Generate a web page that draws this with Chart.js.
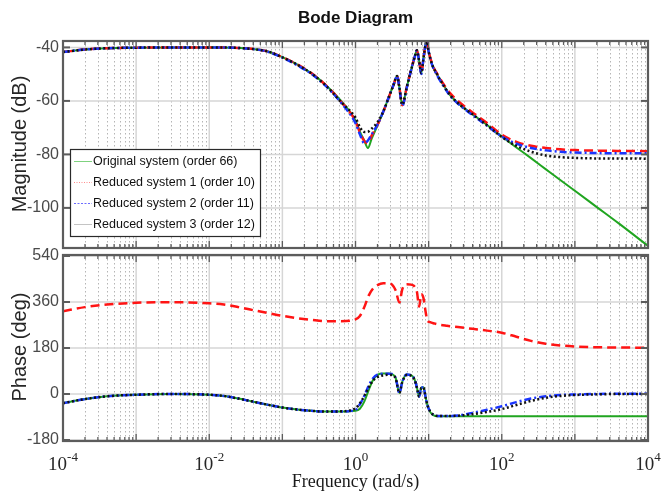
<!DOCTYPE html>
<html><head><meta charset="utf-8">
<script src="https://cdn.jsdelivr.net/npm/chart.js@4.4.0/dist/chart.umd.min.js"></script>
<style>
html,body{margin:0;padding:0;background:#fff;}
#wrap{position:relative;width:661px;height:492px;overflow:hidden;background:#fff}
canvas{position:absolute;left:0}
</style></head><body>
<div id="wrap">
<canvas id="mag" width="661" height="250" style="top:0px"></canvas>
<canvas id="phase" width="661" height="252" style="top:240px"></canvas>
</div>
<script>
// ---------- data (log10 of frequency in rad/s) ----------
const seriesNames = ['Original system (order 66)','Reduced system 1 (order 10)','Reduced system 2 (order 11)','Reduced system 3 (order 12)'];
const chartTitle = 'Bode Diagram';
const magAxisTitle = 'Magnitude (dB)';
const phaseAxisTitle = 'Phase (deg)';
const freqAxisTitle = 'Frequency (rad/s)';
const magTicks = [-40,-60,-80,-100];
const phaseTicks = [-180,0,180,360,540];
const freqTickExps = [-4,-2,0,2,4];

const magLogW = [-4,-3.7,-3.4,-3,-2.5,-2,-1.8,-1.6,-1.4,-1.2,-1.0,-0.8,-0.6,-0.4,-0.2,0,0.06,0.12,0.17,0.22,0.3,0.38,0.45,0.52,0.57,0.6,0.64,0.7,0.76,0.81,0.84,0.87,0.9,0.93,0.96,0.975,1.0,1.05,1.12,1.2,1.29,1.4,1.6,1.8,2.0,2.2,2.4,2.6,2.8,3.0,3.3,3.6,4.0];
const magOriginal = [-41.7,-40.8,-40.3,-40.1,-40.0,-40.0,-40.0,-40.2,-40.6,-41.5,-43.6,-46.3,-49.7,-54.2,-59.9,-67.3,-71.5,-74.8,-77.6,-74.2,-69.2,-64.0,-59.0,-54.0,-50.7,-55.0,-61.4,-55.0,-48.5,-43.5,-41.1,-45.0,-49.6,-44.0,-38.8,-37.8,-41.5,-46.5,-50.3,-54.0,-57.7,-60.8,-65.0,-69.0,-73.3,-77.4,-81.4,-85.5,-89.6,-93.6,-99.7,-105.8,-114.2];
const magReduced1 = [-41.7,-40.8,-40.3,-40.1,-40.0,-40.0,-40.0,-40.2,-40.6,-41.5,-43.6,-46.3,-49.7,-54.3,-60.2,-67.6,-71.8,-75.0,-75.8,-73.0,-69.0,-64.0,-59.0,-54.0,-50.7,-55.0,-61.6,-55.0,-48.5,-43.5,-41.1,-45.0,-49.6,-44.0,-38.8,-37.8,-41.5,-46.3,-50.0,-53.6,-57.0,-60.0,-64.3,-68.3,-72.6,-75.3,-76.8,-77.6,-78.1,-78.4,-78.6,-78.7,-78.8];
const magReduced2 = [-41.7,-40.8,-40.3,-40.1,-40.0,-40.0,-40.0,-40.2,-40.6,-41.6,-43.8,-46.6,-50.0,-54.6,-60.6,-68.3,-72.5,-75.8,-74.8,-72.6,-68.8,-64.0,-59.0,-54.0,-50.7,-55.2,-61.9,-55.2,-48.6,-43.5,-41.1,-45.2,-49.9,-44.0,-38.8,-37.8,-41.6,-46.7,-50.6,-54.3,-58.0,-61.0,-65.3,-69.3,-73.3,-76.0,-77.6,-78.5,-79.0,-79.3,-79.5,-79.6,-79.6];
const magReduced3 = [-41.7,-40.8,-40.3,-40.1,-40.0,-40.0,-40.0,-40.2,-40.6,-41.5,-43.7,-46.4,-49.8,-54.4,-60.4,-66.3,-69.8,-71.6,-71.5,-70.4,-68.0,-64.0,-59.0,-54.0,-50.7,-55.0,-61.4,-55.0,-48.5,-43.5,-41.1,-45.0,-49.6,-44.0,-38.8,-37.8,-41.5,-46.5,-50.3,-54.0,-57.7,-60.8,-65.0,-69.1,-73.5,-76.8,-79.0,-80.4,-81.0,-81.3,-81.5,-81.5,-81.6];

const phaseLogW = [-4,-3.7,-3.4,-3,-2.5,-2,-1.8,-1.6,-1.4,-1.2,-1.0,-0.8,-0.6,-0.4,-0.2,0,0.06,0.12,0.18,0.24,0.3,0.38,0.45,0.5,0.55,0.6,0.64,0.7,0.76,0.81,0.84,0.87,0.9,0.93,0.96,0.98,1.02,1.08,1.15,1.25,1.4,1.6,1.8,2.0,2.2,2.4,2.6,2.8,3.0,3.3,3.6,4.0];
const phaseOriginal = [-36,-20,-9,-3,0,-3,-8,-18,-30,-42,-53,-61,-66,-69,-69,-66,-58,-30,15,55,75,80,80,78,62,4,48,76,74,55,25,-10,25,26,-15,-40,-70,-85,-87,-87,-87,-87,-87,-87,-87,-87,-87,-87,-87,-87,-87,-87];
const phaseReduced1 = [324,340,350,357,359,355,350,340,328,317,306,297,290,285,285,292,305,340,385,413,426,433,433,428,405,358,410,430,428,420,400,342,390,375,320,290,281,276,271,267,262,255,248,240,224,208,197,190,186,183,182,181];
const phaseReduced2 = [-36,-20,-9,-3,0,-3,-8,-18,-30,-42,-53,-61,-66,-69,-69,-62,-40,-8,32,62,76,79,79,78,62,4,48,76,74,55,25,-10,25,26,-15,-40,-68,-83,-86,-86,-84,-74,-62,-48,-32,-18,-9,-4,-2,0,1,1];
const phaseReduced3 = [-36,-20,-9,-3,0,-3,-8,-18,-30,-42,-53,-61,-66,-69,-68,-56,-36,-8,25,52,66,73,75,74,60,4,47,74,72,54,24,-10,24,25,-15,-40,-68,-83,-86,-86,-85,-79,-70,-59,-43,-27,-15,-8,-4,-1.5,0,0];

// ---------- styles ----------
const lineStyles = [
  {color:'#20a520', width:2, dash:[], order:3},
  {color:'#ff1414', width:2.5, dash:[9,5], order:2},
  {color:'#1a35ff', width:2.5, dash:[7,3,2,3], order:1},
  {color:'#111111', width:2.5, dash:[2,2.5], order:0}
];
const legendSamples = [
  {color:'#7fd27f', dash:[]},
  {color:'#ff8c8c', dash:[1,1.5]},
  {color:'#6b6bff', dash:[2,1.5]},
  {color:'#c4c4c4', dash:[]}
];
const PLOT_LEFT = 63, PLOT_RIGHT = 648, W = 661;
const FRAME = '#5c5c5c';

function makeDatasets(xs, ys) {
  return ys.map((arr, i) => ({
    label: seriesNames[i],
    data: xs.map((x, j) => ({x: x, y: arr[j]})),
    borderColor: lineStyles[i].color,
    borderWidth: lineStyles[i].width,
    borderDash: lineStyles[i].dash,
    order: lineStyles[i].order,
    pointRadius: 0,
    fill: false,
    cubicInterpolationMode: 'monotone'
  }));
}

function line(ctx, x1, y1, x2, y2) { ctx.beginPath(); ctx.moveTo(x1, y1); ctx.lineTo(x2, y2); ctx.stroke(); }

function bodePlugin(yTicks) {
  return {
    id: 'bodeDecor',
    beforeDatasetsDraw(chart) {
      const {ctx, chartArea: a, scales: {x, y}} = chart;
      ctx.save();
      ctx.strokeStyle = '#b5b5b5'; ctx.lineWidth = 1; ctx.setLineDash([1.5, 2.5]);
      for (let n = -4; n < 4; n++) for (let k = 2; k < 10; k++) {
        const px = Math.round(x.getPixelForValue(n + Math.log10(k))) + 0.5;
        line(ctx, px, a.top, px, a.bottom);
      }
      ctx.setLineDash([]); ctx.strokeStyle = '#d6d6d6'; ctx.lineWidth = 1.5;
      for (let n = -4; n <= 4; n++) { const px = x.getPixelForValue(n); line(ctx, px, a.top, px, a.bottom); }
      for (const v of yTicks) { const py = y.getPixelForValue(v); line(ctx, a.left, py, a.right, py); }
      ctx.restore();
    },
    afterDatasetsDraw(chart) {
      const {ctx, chartArea: a, scales: {x, y}} = chart;
      ctx.save();
      ctx.strokeStyle = FRAME; ctx.setLineDash([]);
      ctx.lineWidth = 1.3;
      for (let n = -4; n < 4; n++) for (let k = 1; k < 10; k++) {
        const px = x.getPixelForValue(n + Math.log10(k));
        const L = k === 1 ? 7 : 4;
        line(ctx, px, a.top, px, a.top + L);
        line(ctx, px, a.bottom, px, a.bottom - L);
      }
      ctx.lineWidth = 2;
      for (const v of yTicks) {
        const py = y.getPixelForValue(v);
        line(ctx, a.left, py, a.left + 7, py);
        line(ctx, a.right, py, a.right - 7, py);
      }
      ctx.lineWidth = 2.2;
      ctx.strokeRect(a.left, a.top, a.right - a.left, a.bottom - a.top);
      ctx.restore();
    }
  };
}

function axisTitle(ctx, text, cx, cy) {
  ctx.save();
  ctx.translate(cx, cy); ctx.rotate(-Math.PI / 2);
  ctx.font = '20px "Liberation Sans", Arial, sans-serif';
  ctx.fillStyle = '#262626'; ctx.textAlign = 'center'; ctx.textBaseline = 'middle';
  ctx.fillText(text, 0, 0);
  ctx.restore();
}

function baseOptions(yMin, yMax, yTicks, padTop, padBottom) {
  return {
    responsive: false, animation: false, events: [],
    layout: {padding: {left: 0, right: W - PLOT_RIGHT, top: padTop, bottom: padBottom}},
    plugins: {legend: {display: false}, tooltip: {enabled: false}, title: {display: false}},
    scales: {
      x: {type: 'linear', min: -4, max: 4,
          grid: {display: false, drawTicks: false}, border: {display: false},
          ticks: {display: false},
          afterFit(s) { s.height = 0; s.paddingLeft = 0; s.paddingRight = 0; }},
      y: {type: 'linear', min: yMin, max: yMax,
          grid: {display: false, drawTicks: false}, border: {display: false},
          ticks: {padding: 4, color: '#4a4a4a', font: {family: '"Liberation Sans", Arial, sans-serif', size: 16},
                  callback: v => String(v)},
          afterBuildTicks(s) { s.ticks = yTicks.map(v => ({value: v})); },
          afterFit(s) { s.width = PLOT_LEFT; s.paddingTop = 0; s.paddingBottom = 0; }}
    }
  };
}

// ---------- magnitude chart ----------
const magOpts = baseOptions(-115, -37.6, magTicks, 41, 2);
new Chart(document.getElementById('mag'), {
  type: 'line',
  data: {datasets: makeDatasets(magLogW, [magOriginal, magReduced1, magReduced2, magReduced3])},
  options: magOpts,
  plugins: [bodePlugin(magTicks), {
    id: 'magText',
    afterDraw(chart) {
      const {ctx, chartArea: a} = chart;
      ctx.save();
      ctx.font = 'bold 17px "Liberation Sans", Arial, sans-serif';
      ctx.fillStyle = '#111'; ctx.textAlign = 'center'; ctx.textBaseline = 'middle';
      ctx.fillText(chartTitle, (a.left + a.right) / 2, 18);
      ctx.restore();
      axisTitle(ctx, magAxisTitle, 20, 144);
      // legend
      ctx.save();
      const bx = 70, by = 149, bw = 190, bh = 87;
      ctx.fillStyle = '#fff'; ctx.fillRect(bx, by, bw, bh);
      ctx.strokeStyle = '#2a2a2a'; ctx.lineWidth = 1.2; ctx.strokeRect(bx + 0.5, by + 0.5, bw, bh);
      ctx.font = '12.5px "Liberation Sans", Arial, sans-serif';
      ctx.textAlign = 'left'; ctx.textBaseline = 'middle';
      seriesNames.forEach((name, i) => {
        const yy = by + 12 + i * 21;
        ctx.strokeStyle = legendSamples[i].color; ctx.lineWidth = 1; ctx.setLineDash(legendSamples[i].dash);
        line(ctx, bx + 4, yy + 0.5, bx + 22, yy + 0.5);
        ctx.setLineDash([]);
        ctx.fillStyle = '#111';
        ctx.fillText(name, bx + 23, yy + 1);
      });
      ctx.restore();
    }
  }]
});

// ---------- phase chart ----------
const phOpts = baseOptions(-184, 544, phaseTicks, 15, 51);
new Chart(document.getElementById('phase'), {
  type: 'line',
  data: {datasets: makeDatasets(phaseLogW, [phaseOriginal, phaseReduced1, phaseReduced2, phaseReduced3])},
  options: phOpts,
  plugins: [bodePlugin(phaseTicks), {
    id: 'phaseText',
    afterDraw(chart) {
      const {ctx, chartArea: a, scales: {x}} = chart;
      axisTitle(ctx, phaseAxisTitle, 20, 107);
      ctx.save();
      ctx.fillStyle = '#262626'; ctx.textBaseline = 'alphabetic'; ctx.textAlign = 'left';
      const bigF = '19px "Liberation Serif", "Times New Roman", serif';
      const smallF = '13px "Liberation Serif", "Times New Roman", serif';
      for (const e of freqTickExps) {
        const px = x.getPixelForValue(e);
        const base = '10', ex = String(e);
        ctx.font = bigF; const w1 = ctx.measureText(base).width;
        ctx.font = smallF; const w2 = ctx.measureText(ex).width;
        const sx = px - (w1 + w2) / 2;
        ctx.font = bigF; ctx.fillText(base, sx, 230);
        ctx.font = smallF; ctx.fillText(ex, sx + w1, 221);
      }
      ctx.font = '18px "Liberation Serif", "Times New Roman", serif';
      ctx.fillStyle = '#1a1a1a'; ctx.textAlign = 'center';
      ctx.fillText(freqAxisTitle, (a.left + a.right) / 2, 247);
      ctx.restore();
    }
  }]
});
</script>
</body></html>
